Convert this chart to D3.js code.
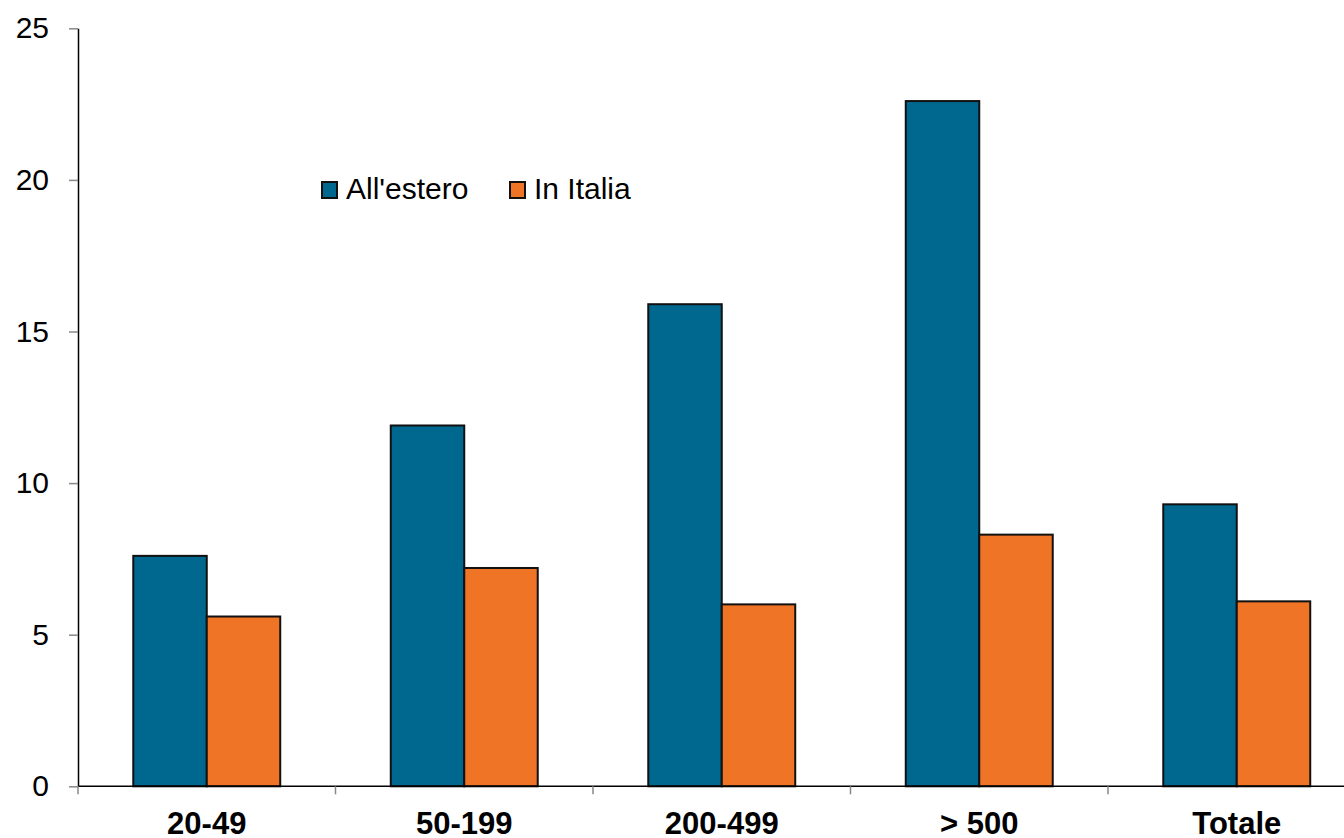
<!DOCTYPE html>
<html>
<head>
<meta charset="utf-8">
<script src="https://cdn.jsdelivr.net/npm/d3@7"></script>
<style>
  html, body { margin: 0; padding: 0; background: #fff; }
  svg { display: block; font-family: "Liberation Sans", Arial, sans-serif; }
</style>
</head>
<body>
<svg id="chart" width="1344" height="838"></svg>
<script>
// Categories (company size classes) and series values
const categories = ["20-49", "50-199", "200-499", "> 500", "Totale"];
const seriesNames = ["All'estero", "In Italia"];
const allEstero = [7.6, 11.9, 15.9, 22.6, 9.3];
const inItalia = [5.6, 7.2, 6.0, 8.3, 6.1];
const yTicks = [0, 5, 10, 15, 20, 25];

const colors = { "All'estero": "#00688F", "In Italia": "#F07425" };

const rows = categories.map((c, i) => ({
  category: c,
  values: [
    { key: seriesNames[0], value: allEstero[i] },
    { key: seriesNames[1], value: inItalia[i] }
  ]
}));

const svg = d3.select("#chart");
const plotLeft = 78, plotTop = 28.3, plotBottom = 786.3;
const step = 257.5;

const x0 = d3.scaleBand()
  .domain(categories)
  .range([plotLeft, plotLeft + step * categories.length])
  .padding(0);

const x1 = d3.scaleBand()
  .domain(seriesNames)
  .range([0, x0.bandwidth()])
  .paddingInner(0)
  .paddingOuter(0.752);

const y = d3.scaleLinear().domain([0, 25]).range([plotBottom, plotTop]);

// Bars
const groups = svg.append("g")
  .selectAll("g")
  .data(rows)
  .join("g")
  .attr("transform", d => `translate(${x0(d.category)},0)`);

groups.selectAll("rect")
  .data(d => d.values)
  .join("rect")
  .attr("x", d => x1(d.key))
  .attr("y", d => y(d.value))
  .attr("width", x1.bandwidth())
  .attr("height", d => y(0) - y(d.value))
  .attr("fill", d => colors[d.key])
  .attr("stroke", "#111")
  .attr("stroke-width", 2);

// Y axis
const yAxis = svg.append("g")
  .attr("transform", `translate(${plotLeft},0)`)
  .call(d3.axisLeft(y).tickValues(yTicks).tickSize(9).tickPadding(20).tickSizeOuter(0));
yAxis.select(".domain").attr("stroke", "#000").attr("stroke-width", 1.5);
yAxis.selectAll(".tick line").attr("stroke", "#888").attr("stroke-width", 1.5);
yAxis.selectAll(".tick text")
  .attr("font-size", 30)
  .attr("fill", "#000")
  .attr("font-family", "Liberation Sans, Arial, sans-serif");

// X axis: line plus ticks at category boundaries
const xg = svg.append("g");
xg.append("line")
  .attr("x1", plotLeft).attr("x2", 1344)
  .attr("y1", plotBottom).attr("y2", plotBottom)
  .attr("stroke", "#000").attr("stroke-width", 1.5);

const boundaries = categories.map(c => x0(c)).concat([x0.range()[1]]);
xg.selectAll("line.tick")
  .data(boundaries)
  .join("line")
  .attr("class", "tick")
  .attr("x1", d => d).attr("x2", d => d)
  .attr("y1", plotBottom).attr("y2", plotBottom + 8)
  .attr("stroke", "#888").attr("stroke-width", 1.5);

xg.selectAll("text")
  .data(categories)
  .join("text")
  .attr("x", d => x0(d) + x0.bandwidth() / 2)
  .attr("y", 834)
  .attr("text-anchor", "middle")
  .attr("font-size", 31)
  .attr("font-weight", "bold")
  .attr("fill", "#000")
  .text(d => d);

// Legend
const legend = svg.append("g").attr("transform", "translate(322,182)");
const legendX = [0, 188];
seriesNames.forEach((name, i) => {
  const g = legend.append("g").attr("transform", `translate(${legendX[i]},0)`);
  g.append("rect")
    .attr("x", 0).attr("y", 0)
    .attr("width", 15).attr("height", 16)
    .attr("fill", colors[name])
    .attr("stroke", "#111").attr("stroke-width", 2);
  g.append("text")
    .attr("x", 24).attr("y", 16.5)
    .attr("font-size", 30)
    .attr("fill", "#000")
    .text(name);
});
</script>
</body>
</html>
